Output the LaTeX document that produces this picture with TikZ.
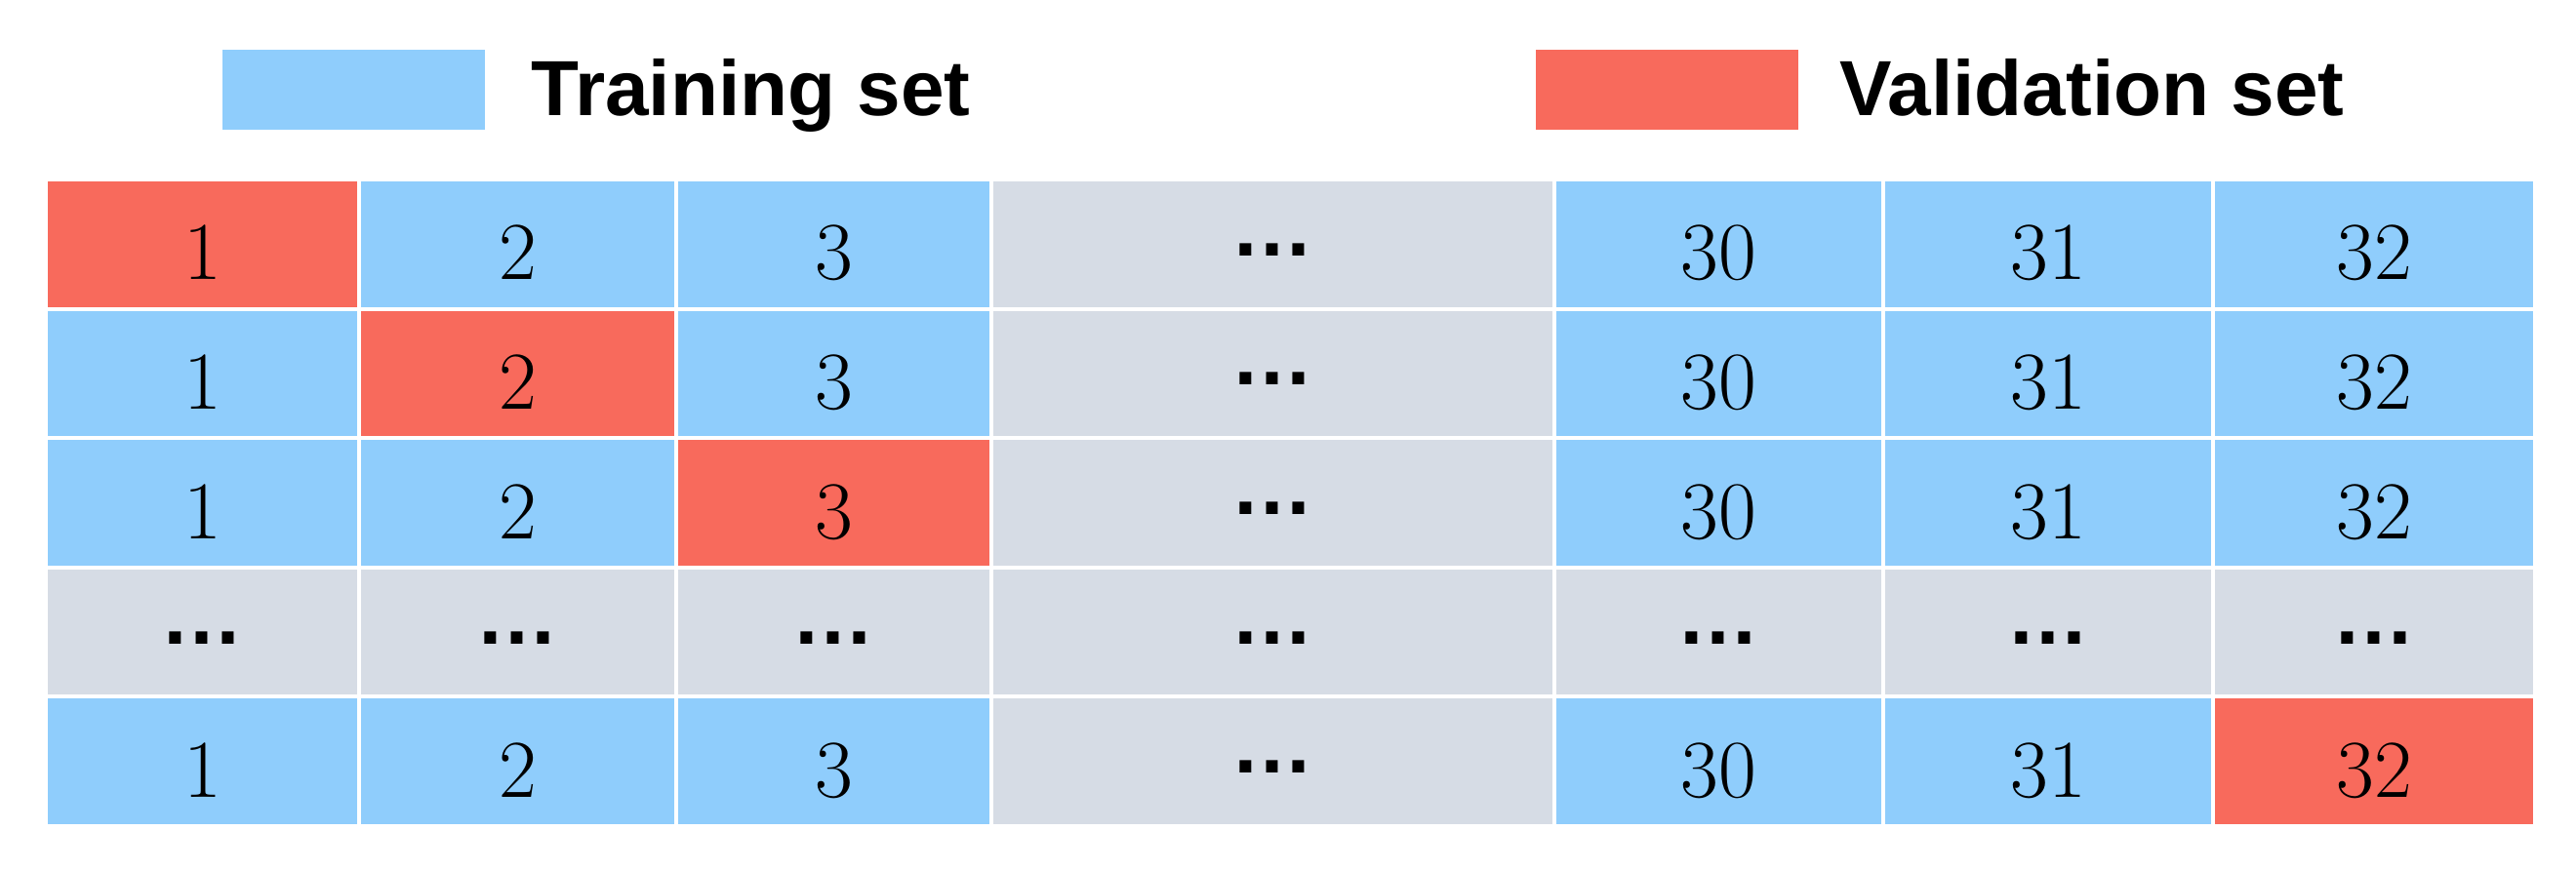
\documentclass[tikz,border=0pt]{standalone}
\usepackage{fontspec}
\newfontfamily\legendfont{Liberation Sans}
\definecolor{trainblue}{RGB}{143,205,252}
\definecolor{valred}{RGB}{248,106,92}
\definecolor{dotgray}{RGB}{214,220,229}
\tikzset{
  cell/.style={draw=white, line width=0.04cm, minimum height=1.326cm, inner sep=0pt, outer sep=0pt,
    font=\fontsize{24}{24}\selectfont, text height=0.734cm, text depth=0cm},
  dotcell/.style={cell, fill=dotgray, font=\legendfont\bfseries\fontsize{24.2}{24}\selectfont,
    text height=0.24cm, text depth=0cm},
  legendbox/.style={draw=none, inner sep=0pt, outer sep=0pt, minimum width=2.69cm, minimum height=0.82cm},
  legendtext/.style={anchor=base west, inner sep=0pt, font=\legendfont\bfseries\fontsize{22.8}{24}\selectfont}
}
\begin{document}
\begin{tikzpicture}[x=1cm,y=1cm]
\useasboundingbox[fill=white] (0,0) rectangle (26.4,8.92);
% legend
\node[legendbox, fill=trainblue] (lgtrain) at (3.625,8.00) {};
\node[legendtext] (lgtraintext) at (5.44,7.73) {Training set};
\node[legendbox, fill=valred] (lgval) at (17.085,8.00) {};
\node[legendtext] (lgvaltext) at (18.85,7.73) {Validation set};
% numbered rows
\foreach \r/\y/\v in {1/6.417/1, 2/5.091/2, 3/3.765/3, 5/1.113/7} {
  \foreach \c/\x/\w/\t in {1/2.075/3.21/1, 2/5.305/3.25/2, 3/8.545/3.23/3, 5/17.615/3.37/30, 6/20.99/3.38/31, 7/24.33/3.30/32} {
    \ifnum\c=\v \def\cellcol{valred}\else\def\cellcol{trainblue}\fi
    \node[cell, fill=\cellcol, minimum width=\w cm] (r\r-\c) at (\x,\y) {\t};
  }
  \node[dotcell, minimum width=5.77cm] (r\r-4) at (13.045,\y) {…};
}
% dots row
\foreach \c/\x/\w in {1/2.075/3.21, 2/5.305/3.25, 3/8.545/3.23, 4/13.045/5.77, 5/17.615/3.37, 6/20.99/3.38, 7/24.33/3.30} {
  \node[dotcell, minimum width=\w cm] (r4-\c) at (\x,2.439) {…};
}
\end{tikzpicture}
\end{document}
